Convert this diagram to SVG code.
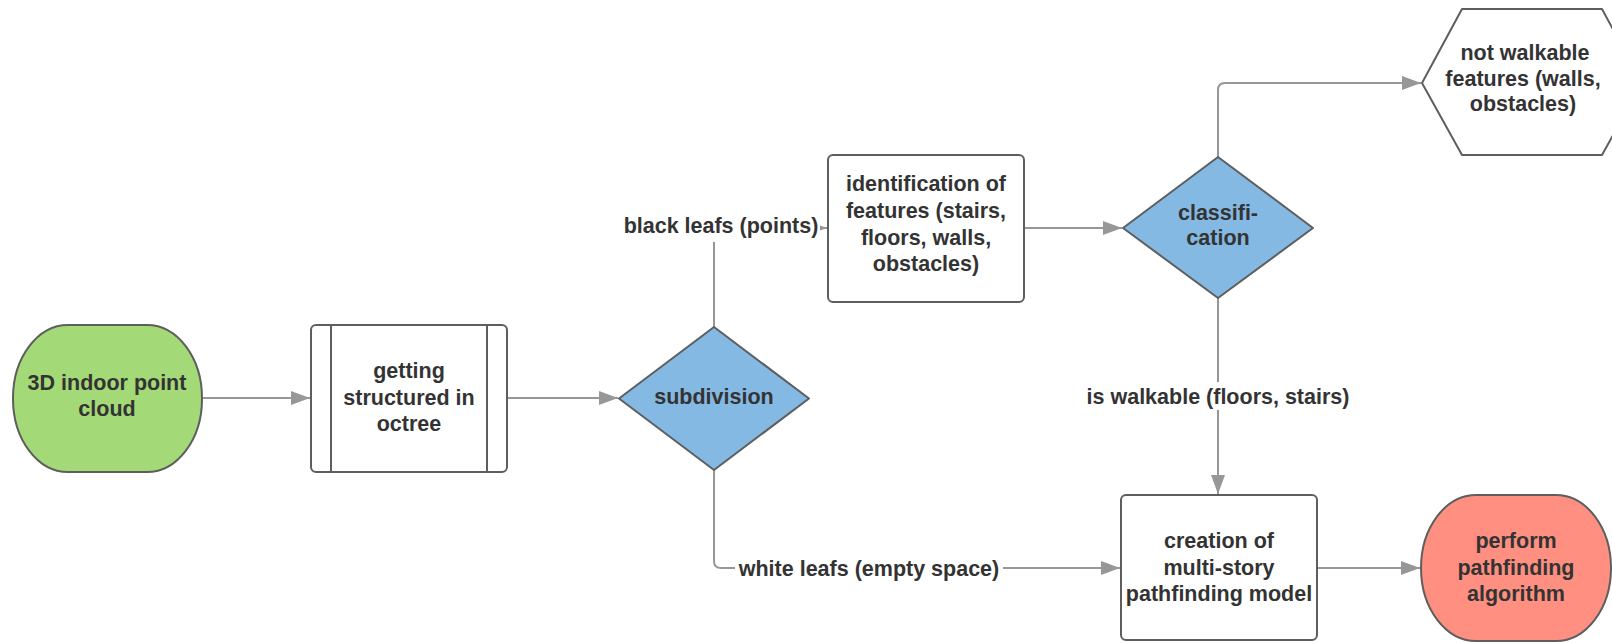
<svg xmlns="http://www.w3.org/2000/svg" width="1612" height="643" viewBox="0 0 1612 643">
<style>
.n{stroke:#5e5e5e;stroke-width:2;stroke-linejoin:round}
.t{font-family:"Liberation Sans",Arial,sans-serif;font-weight:bold;font-size:21.5px;fill:#333333;text-anchor:middle}
.c{fill:none;stroke:#979797;stroke-width:2}
.lb{fill:#ffffff}
</style>
<defs>
<marker id="ah" markerUnits="userSpaceOnUse" markerWidth="20" markerHeight="16" refX="19" refY="8" orient="auto">
<path d="M0,1 L19,8 L0,15 Z" fill="#979797"/>
</marker>
</defs>
<rect width="1612" height="643" fill="#ffffff"/>
<g id="connectors">
<path class="c" d="M202,398 H310" marker-end="url(#ah)"/>
<path class="c" d="M507,398 H618" marker-end="url(#ah)"/>
<path class="c" d="M714,327 V234 Q714,228 720,228 H827" marker-end="url(#ah)"/>
<path class="c" d="M1024,228 H1122" marker-end="url(#ah)"/>
<path class="c" d="M1218,157 V90 Q1218,83 1225,83 H1421" marker-end="url(#ah)"/>
<path class="c" d="M1218,298 V494" marker-end="url(#ah)"/>
<path class="c" d="M714,470 V561 Q714,568 721,568 H1120" marker-end="url(#ah)"/>
<path class="c" d="M1317,568 H1420" marker-end="url(#ah)"/>
<rect class="lb" x="622" y="212" width="198" height="30"/>
<text class="t" x="721" y="233">black leafs (points)</text>
<rect class="lb" x="1083" y="382" width="270" height="28"/>
<text class="t" x="1218" y="404">is walkable (floors, stairs)</text>
<rect class="lb" x="735" y="554" width="268" height="28"/>
<text class="t" x="869" y="576">white leafs (empty space)</text>
</g>
<g id="pointcloud">
<rect class="n" x="13" y="325" width="189" height="147" rx="55" ry="73" fill="#a3d977"/>
<text class="t" x="107" y="390">3D indoor point</text>
<text class="t" x="107" y="416">cloud</text>
</g>
<g id="octree">
<rect class="n" x="311" y="325" width="196" height="147" rx="5" fill="#ffffff"/>
<line class="n" x1="331" y1="325" x2="331" y2="472"/>
<line class="n" x1="487" y1="325" x2="487" y2="472"/>
<text class="t" x="409" y="378">getting</text>
<text class="t" x="409" y="405">structured in</text>
<text class="t" x="409" y="431">octree</text>
</g>
<g id="subdivision">
<path class="n" d="M714,327 L809,398.5 L714,470 L619,398.5 Z" fill="#83b9e3"/>
<text class="t" x="714" y="404">subdivision</text>
</g>
<g id="identification">
<rect class="n" x="828" y="155" width="196" height="147" rx="5" fill="#ffffff"/>
<text class="t" x="926" y="191">identification of</text>
<text class="t" x="926" y="218">features (stairs,</text>
<text class="t" x="926" y="245">floors, walls,</text>
<text class="t" x="926" y="271">obstacles)</text>
</g>
<g id="classification">
<path class="n" d="M1218,157 L1313,228 L1218,298 L1123,228 Z" fill="#83b9e3"/>
<text class="t" x="1218" y="220">classifi-</text>
<text class="t" x="1218" y="245">cation</text>
</g>
<g id="notwalkable">
<path class="n" d="M1422,83 L1462,9 L1602,9 L1642,83 L1602,155 L1462,155 Z" fill="#ffffff"/>
<text class="t" x="1525" y="60">not walkable</text>
<text class="t" x="1523" y="86">features (walls,</text>
<text class="t" x="1523" y="111">obstacles)</text>
</g>
<g id="model">
<rect class="n" x="1121" y="495" width="196" height="145" rx="5" fill="#ffffff"/>
<text class="t" x="1219" y="548">creation of</text>
<text class="t" x="1219" y="575">multi-story</text>
<text class="t" x="1219" y="601">pathfinding model</text>
</g>
<g id="pathfinding">
<rect class="n" x="1421" y="495" width="190" height="146" rx="55" ry="73" fill="#ff8f80"/>
<text class="t" x="1516" y="548">perform</text>
<text class="t" x="1516" y="575">pathfinding</text>
<text class="t" x="1516" y="601">algorithm</text>
</g>
</svg>
